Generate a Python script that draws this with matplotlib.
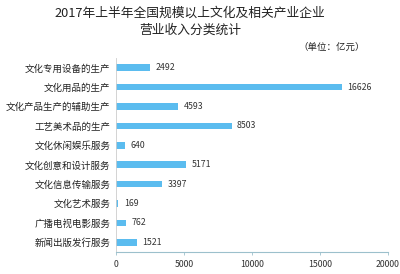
import matplotlib
matplotlib.use("Agg")
import matplotlib.pyplot as plt

plt.rcParams['font.family'] = ['Noto Sans CJK SC', 'DejaVu Sans']

categorias = ["文化专用设备的生产", "文化用品的生产", "文化产品生产的辅助生产", "工艺美术品的生产",
              "文化休闲娱乐服务", "文化创意和设计服务", "文化信息传输服务", "文化艺术服务",
              "广播电视电影服务", "新闻出版发行服务"]
valores = [2492, 16626, 4593, 8503, 640, 5171, 3397, 169, 762, 1521]
ticks_x = [0, 5000, 10000, 15000, 20000]

fig = plt.figure(figsize=(4, 2.74), dpi=100)
ax = fig.add_axes([0.29, 0.08, 0.68, 0.708])

pos = list(range(len(categorias)))
ax.barh(pos, valores, height=0.34, color="#5bbcef")
for p, v in zip(pos, valores):
    ax.text(v + 400, p, str(v), va="center", ha="left", fontsize=6.3, color="#333333")

ax.set_ylim(len(categorias) - 0.5, -0.5)
ax.set_xlim(0, 20000)
ax.set_yticks(pos)
ax.set_yticklabels(categorias, fontsize=6.8, color="#222222")
ax.set_xticks(ticks_x)
ax.set_xticklabels([str(t) for t in ticks_x], fontsize=6.3, color="#333333")
ax.tick_params(axis="y", length=0, pad=4)
ax.tick_params(axis="x", length=2.5, width=0.6, color="#9cc0cc", pad=3)

for s in ["top", "right"]:
    ax.spines[s].set_visible(False)
ax.spines["left"].set_color("#cccccc")
ax.spines["left"].set_linewidth(0.6)
ax.spines["bottom"].set_color("#9cc0cc")
ax.spines["bottom"].set_linewidth(0.8)

fig.text(0.475, 0.952, "2017年上半年全国规模以上文化及相关产业企业", ha="center", va="center", fontsize=9.2, color="#222222")
fig.text(0.475, 0.890, "营业收入分类统计", ha="center", va="center", fontsize=9.2, color="#222222")
fig.text(0.83, 0.828, "（单位：亿元）", ha="center", va="center", fontsize=6.8, color="#222222")

fig.savefig("out.png", dpi=100)
